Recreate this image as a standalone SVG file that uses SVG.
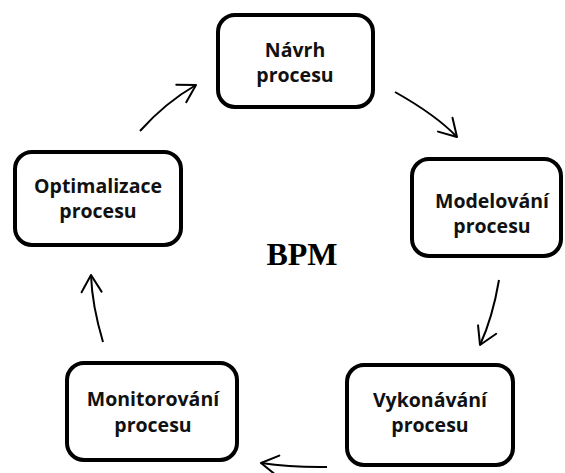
<svg xmlns="http://www.w3.org/2000/svg" width="565" height="473" viewBox="0 0 565 473">
<defs>
<style>
.box{fill:#fff;stroke:#000;stroke-width:4}
.lbl{font-family:"Open Sans","Liberation Sans",sans-serif;font-weight:700;font-size:19.5px;fill:#111;text-anchor:middle}
.title{font-family:"Liberation Serif","Times New Roman",serif;font-weight:700;font-size:32px;fill:#000;text-anchor:middle}
.conn{fill:none;stroke:#000;stroke-width:2;marker-end:url(#head)}
</style>
<marker id="head" markerUnits="userSpaceOnUse" markerWidth="40" markerHeight="40" refX="0" refY="0" viewBox="-20 -20 40 40" orient="auto" overflow="visible">
<path d="M-17,-10 L0,0 L-17,10" fill="none" stroke="#000" stroke-width="2" stroke-linecap="round" stroke-linejoin="round"/>
</marker>
</defs>
<rect width="565" height="473" fill="#fff"/>
<g id="connectors">
<path class="conn" d="M140,131 Q165.5,102.5 196,85"/>
<path class="conn" d="M395,92 Q436,115 457,137"/>
<path class="conn" d="M499,280 Q492.6,317.7 480,345"/>
<path class="conn" d="M327,467 Q291,467.5 261,463"/>
<path class="conn" d="M103,342 Q92,305 91,275"/>
</g>
<g id="navrh">
<rect class="box" x="218" y="15" width="155" height="92" rx="17"/>
<text class="lbl" x="295" y="57">Návrh</text>
<text class="lbl" x="295" y="82">procesu</text>
</g>
<g id="modelovani">
<rect class="box" x="412" y="159" width="149" height="97" rx="17"/>
<text class="lbl" x="492" y="208">Modelování</text>
<text class="lbl" x="492" y="233">procesu</text>
</g>
<g id="vykonavani">
<rect class="box" x="347" y="365" width="166" height="100" rx="17"/>
<text class="lbl" x="430" y="407">Vykonávání</text>
<text class="lbl" x="430" y="432">procesu</text>
</g>
<g id="monitorovani">
<rect class="box" x="67" y="363" width="170" height="97" rx="17"/>
<text class="lbl" x="153" y="406">Monitorování</text>
<text class="lbl" x="153" y="432">procesu</text>
</g>
<g id="optimalizace">
<rect class="box" x="15" y="152" width="166" height="93" rx="17"/>
<text class="lbl" x="98" y="193">Optimalizace</text>
<text class="lbl" x="98" y="218">procesu</text>
</g>
<text class="title" x="302" y="265">BPM</text>
</svg>
